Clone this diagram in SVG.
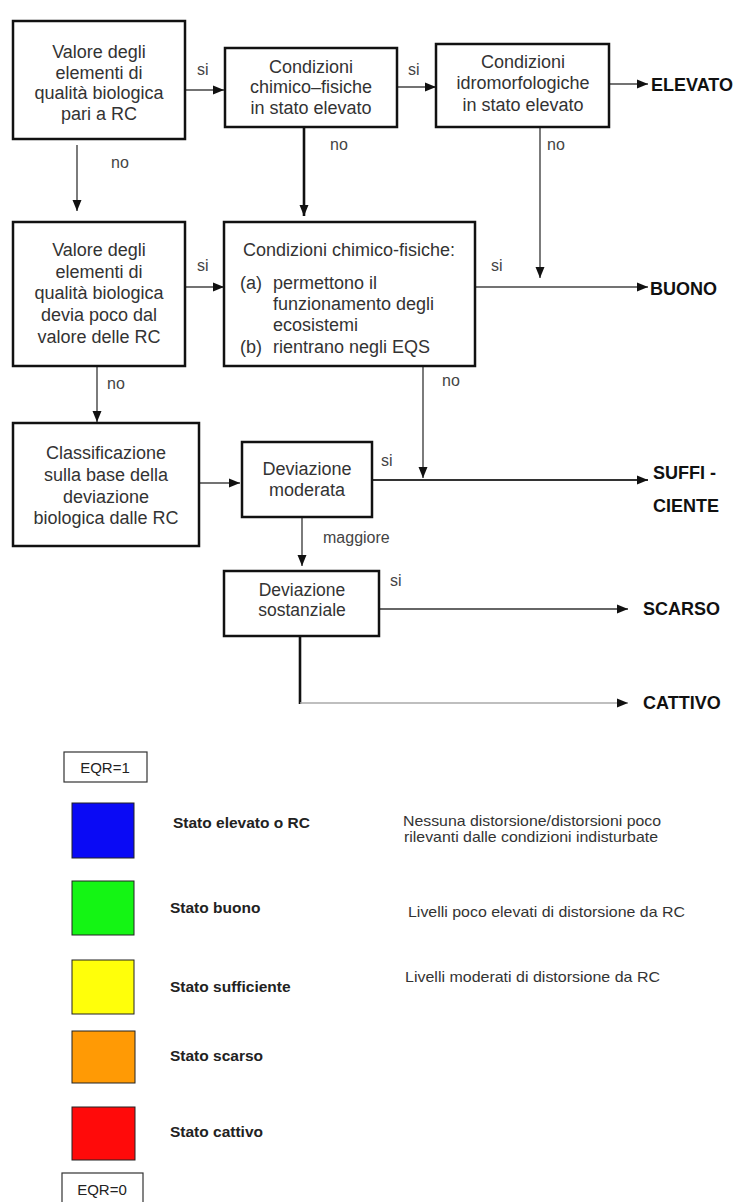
<svg xmlns="http://www.w3.org/2000/svg" width="736" height="1202" viewBox="0 0 736 1202">
<style>
.box{fill:#fff;stroke:#111;stroke-width:2.5}
.t{font-family:"Liberation Sans",Arial,sans-serif;font-size:18px;fill:#333;text-anchor:middle}
.tl{font-family:"Liberation Sans",Arial,sans-serif;font-size:18px;fill:#333}
.lab{font-family:"Liberation Sans",Arial,sans-serif;font-size:16px;fill:#444}
.out{font-family:"Liberation Sans",Arial,sans-serif;font-size:18px;font-weight:bold;fill:#111}
.c{fill:none;stroke:#444;stroke-width:1.4}
.ck{fill:none;stroke:#111;stroke-width:2.6}
.leg{font-family:"Liberation Sans",Arial,sans-serif;font-size:15.5px;font-weight:bold;fill:#222}
.desc{font-family:"Liberation Sans",Arial,sans-serif;font-size:15px;fill:#333}
.sq{stroke:#222;stroke-width:1}
.eqr{fill:#fff;stroke:#333;stroke-width:1.2}
.eqt{font-family:"Liberation Sans",Arial,sans-serif;font-size:15px;fill:#222;text-anchor:middle}
</style>
<defs>
<marker id="ah" markerUnits="userSpaceOnUse" markerWidth="12" markerHeight="10" refX="11" refY="5" orient="auto">
<path d="M0,0.5 L11,5 L0,9.5 z" fill="#111"/>
</marker>
</defs>

<g id="connectors">
<line class="c" x1="185" y1="90" x2="224" y2="90" marker-end="url(#ah)"/>
<line class="c" x1="397" y1="87" x2="436" y2="87" marker-end="url(#ah)"/>
<line class="c" x1="609" y1="84" x2="648" y2="84" marker-end="url(#ah)"/>
<line class="c" x1="77" y1="145" x2="77" y2="211" marker-end="url(#ah)"/>
<line class="ck" x1="304" y1="127" x2="304" y2="216" marker-end="url(#ah)"/>
<line class="c" x1="540" y1="127" x2="540" y2="278" marker-end="url(#ah)"/>
<line class="c" x1="185" y1="287" x2="224" y2="287" marker-end="url(#ah)"/>
<line class="c" x1="475" y1="287" x2="648" y2="287" marker-end="url(#ah)"/>
<line class="c" x1="97" y1="366" x2="97" y2="422" marker-end="url(#ah)"/>
<line class="c" x1="423" y1="366" x2="423" y2="478" marker-end="url(#ah)"/>
<line class="c" x1="199" y1="483" x2="240" y2="483" marker-end="url(#ah)"/>
<line class="c" style="stroke:#333;stroke-width:2" x1="372" y1="480" x2="648" y2="480" marker-end="url(#ah)"/>
<line class="c" x1="302" y1="517" x2="302" y2="566" marker-end="url(#ah)"/>
<line class="c" style="stroke:#666;stroke-width:2" x1="379" y1="609" x2="628" y2="609" marker-end="url(#ah)"/>
<line class="ck" x1="300" y1="636" x2="300" y2="704"/>
<line class="c" style="stroke:#aaa;stroke-width:1.5" x1="300" y1="703" x2="628" y2="703" marker-end="url(#ah)"/>
<text class="lab" x="197" y="75">si</text>
<text class="lab" x="408" y="75">si</text>
<text class="lab" x="111" y="168">no</text>
<text class="lab" x="330" y="150">no</text>
<text class="lab" x="547" y="150">no</text>
<text class="lab" x="197" y="271">si</text>
<text class="lab" x="491" y="271">si</text>
<text class="lab" x="107" y="389">no</text>
<text class="lab" x="442" y="386">no</text>
<text class="lab" x="381" y="466">si</text>
<text class="lab" x="323" y="543">maggiore</text>
<text class="lab" x="390" y="586">si</text>
</g>

<g id="n1">
<rect class="box" x="13" y="21" width="172" height="118"/>
<text class="t" x="99" y="58">Valore degli</text>
<text class="t" x="99" y="79">elementi di</text>
<text class="t" x="99" y="99">qualità biologica</text>
<text class="t" x="99" y="120">pari a RC</text>
</g>
<g id="n2">
<rect class="box" x="225" y="48" width="172" height="79"/>
<text class="t" x="311" y="73">Condizioni</text>
<text class="t" x="311" y="93">chimico–fisiche</text>
<text class="t" x="311" y="114">in stato elevato</text>
</g>
<g id="n3">
<rect class="box" x="436" y="44" width="173" height="83"/>
<text class="t" x="523" y="68">Condizioni</text>
<text class="t" x="523" y="89">idromorfologiche</text>
<text class="t" x="523" y="111">in stato elevato</text>
</g>
<g id="elevato"><text class="out" x="651" y="91">ELEVATO</text></g>

<g id="n4">
<rect class="box" x="13" y="222" width="172" height="144"/>
<text class="t" x="99" y="256">Valore degli</text>
<text class="t" x="99" y="278">elementi di</text>
<text class="t" x="99" y="299">qualità biologica</text>
<text class="t" x="99" y="321">devia poco dal</text>
<text class="t" x="99" y="343">valore delle RC</text>
</g>
<g id="n5">
<rect class="box" x="224" y="222" width="251" height="144"/>
<text class="tl" x="243" y="256">Condizioni chimico-fisiche:</text>
<text class="tl" x="240" y="289">(a)</text>
<text class="tl" x="273" y="289">permettono il</text>
<text class="tl" x="273" y="310">funzionamento degli</text>
<text class="tl" x="273" y="331">ecosistemi</text>
<text class="tl" x="240" y="353">(b)</text>
<text class="tl" x="273" y="353">rientrano negli EQS</text>
</g>
<g id="buono"><text class="out" x="650" y="295">BUONO</text></g>

<g id="n6">
<rect class="box" x="13" y="423" width="186" height="123"/>
<text class="t" x="106" y="459">Classificazione</text>
<text class="t" x="106" y="481">sulla base della</text>
<text class="t" x="106" y="503">deviazione</text>
<text class="t" x="106" y="524">biologica dalle RC</text>
</g>
<g id="n7">
<rect class="box" x="242" y="442" width="130" height="75"/>
<text class="t" x="307" y="475">Deviazione</text>
<text class="t" x="307" y="496">moderata</text>
</g>
<g id="sufficiente">
<text class="out" x="653" y="479">SUFFI -</text>
<text class="out" x="653" y="512">CIENTE</text>
</g>
<g id="n8">
<rect class="box" x="224" y="571" width="155" height="65"/>
<text class="t" x="302" y="596" style="font-size:17.5px">Deviazione</text>
<text class="t" x="302" y="616" style="font-size:17.5px">sostanziale</text>
</g>
<g id="scarso"><text class="out" x="643" y="615">SCARSO</text></g>
<g id="cattivo"><text class="out" x="643" y="709">CATTIVO</text></g>

<g id="legend">
<rect class="eqr" x="64" y="752" width="83" height="30"/>
<text class="eqt" x="105" y="773">EQR=1</text>
<rect class="sq" x="72" y="803" width="62" height="55" fill="#0a0af5"/>
<text class="leg" x="173" y="828">Stato elevato o RC</text>
<text class="desc" x="403" y="826" textLength="258" lengthAdjust="spacingAndGlyphs">Nessuna distorsione/distorsioni poco</text>
<text class="desc" x="404" y="842" textLength="254" lengthAdjust="spacingAndGlyphs">rilevanti dalle condizioni indisturbate</text>
<rect class="sq" x="72" y="881" width="62" height="54" fill="#14f514"/>
<text class="leg" x="170" y="913">Stato buono</text>
<text class="desc" x="408" y="917" textLength="277" lengthAdjust="spacingAndGlyphs">Livelli poco elevati di distorsione da RC</text>
<rect class="sq" x="72" y="960" width="62" height="54" fill="#ffff0a"/>
<text class="leg" x="170" y="992">Stato sufficiente</text>
<text class="desc" x="405" y="982" textLength="255" lengthAdjust="spacingAndGlyphs">Livelli moderati di distorsione da RC</text>
<rect class="sq" x="72" y="1031" width="63" height="52" fill="#ff9a05"/>
<text class="leg" x="170" y="1061">Stato scarso</text>
<rect class="sq" x="72" y="1107" width="63" height="53" fill="#ff0a0a"/>
<text class="leg" x="170" y="1137">Stato cattivo</text>
<rect class="eqr" x="62" y="1173" width="81" height="32"/>
<text class="eqt" x="102" y="1195">EQR=0</text>
</g>
</svg>
